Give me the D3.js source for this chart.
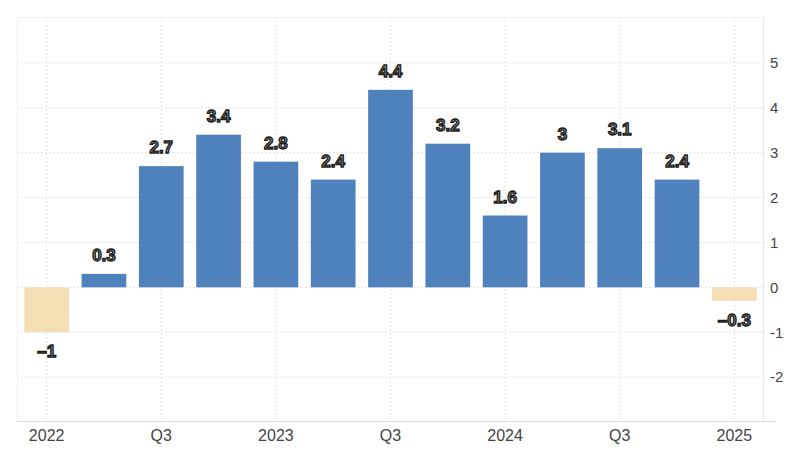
<!DOCTYPE html>
<html>
<head>
<meta charset="utf-8">
<script src="https://cdn.jsdelivr.net/npm/d3@7"></script>
<style>
  body { margin: 0; background: #fff; }
  svg { display: block; font-family: "Liberation Sans", Arial, sans-serif; }
</style>
</head>
<body>
<svg id="chart" width="796" height="458"></svg>
<script>
// quarterly values
const quarters = ["2022 Q1", "2022 Q2", "2022 Q3", "2022 Q4", "2023 Q1", "2023 Q2", "2023 Q3",
  "2023 Q4", "2024 Q1", "2024 Q2", "2024 Q3", "2024 Q4", "2025 Q1"];
const values = [-1, 0.3, 2.7, 3.4, 2.8, 2.4, 4.4, 3.2, 1.6, 3, 3.1, 2.4, -0.3];

const tickQuarters = ["2022 Q1", "2022 Q3", "2023 Q1", "2023 Q3", "2024 Q1", "2024 Q3", "2025 Q1"];
const tickLabels = ["2022", "Q3", "2023", "Q3", "2024", "Q3", "2025"];
const yTicks = [-2, -1, 0, 1, 2, 3, 4, 5];

const plotLeft = 17, plotRight = 763, plotTop = 17, plotBottom = 421;

const svg = d3.select("#chart");

const x = d3.scaleBand()
  .domain(quarters)
  .range([plotLeft + 1, plotRight])
  .paddingInner(0.22)
  .paddingOuter(0.11);

const y = d3.scaleLinear().domain([-3, 6]).range([422, 18]);

// grid
const grid = svg.append("g");
grid.selectAll(".hg")
  .data(yTicks)
  .enter().append("line")
  .attr("x1", plotLeft).attr("x2", plotRight)
  .attr("y1", d => y(d)).attr("y2", d => y(d))
  .attr("stroke", "#e3e3e3")
  .attr("stroke-dasharray", "2,2");

grid.selectAll(".vg")
  .data(tickQuarters)
  .enter().append("line")
  .attr("x1", d => x(d) + x.bandwidth() / 2).attr("x2", d => x(d) + x.bandwidth() / 2)
  .attr("y1", plotTop).attr("y2", plotBottom)
  .attr("stroke", "#e3e3e3")
  .attr("stroke-dasharray", "2,2");

// frame
svg.append("line").attr("x1", plotLeft).attr("x2", plotRight).attr("y1", plotTop + 0.5).attr("y2", plotTop + 0.5)
  .attr("stroke", "#efefef");
svg.append("line").attr("x1", plotLeft + 0.5).attr("x2", plotLeft + 0.5).attr("y1", plotTop).attr("y2", plotBottom)
  .attr("stroke", "#efefef");
svg.append("line").attr("x1", plotRight + 0.5).attr("x2", plotRight + 0.5).attr("y1", plotTop).attr("y2", plotBottom)
  .attr("stroke", "#e6e6e6");
svg.append("line").attr("x1", plotLeft).attr("x2", plotRight + 12).attr("y1", plotBottom + 0.5).attr("y2", plotBottom + 0.5)
  .attr("stroke", "#dddddd");

// bars
svg.selectAll(".bar")
  .data(quarters)
  .enter().append("rect")
  .attr("x", d => x(d))
  .attr("width", x.bandwidth())
  .attr("y", (d, i) => y(Math.max(0, values[i])))
  .attr("height", (d, i) => Math.abs(y(values[i]) - y(0)))
  .attr("fill", (d, i) => values[i] < 0 ? "#f5deb3" : "#4f81bd");

// value labels
svg.selectAll(".lbl")
  .data(quarters)
  .enter().append("text")
  .attr("x", d => x(d) + x.bandwidth() / 2)
  .attr("y", (d, i) => values[i] < 0 ? y(values[i]) + 25 : y(values[i]) - 13)
  .attr("text-anchor", "middle")
  .attr("font-size", 17)
  .attr("font-weight", "bold")
  .attr("fill", "#8a8a8a")
  .attr("stroke", "#1a1a1a")
  .attr("stroke-width", 1.3)
  .text((d, i) => String(values[i]).replace("-", "\u2013"));

// y axis on the right
const yAxis = d3.axisRight(y)
  .tickValues(yTicks)
  .tickSize(0)
  .tickPadding(0)
  .tickFormat(d => String(d));

svg.append("g")
  .attr("transform", `translate(770,0)`)
  .call(yAxis)
  .call(g => g.select(".domain").remove())
  .call(g => g.selectAll("text")
    .attr("font-size", 15)
    .attr("font-family", "Liberation Sans, Arial, sans-serif")
    .attr("fill", "#444"));

// x axis
const xAxis = d3.axisBottom(x)
  .tickValues(tickQuarters)
  .tickSize(0)
  .tickPadding(0)
  .tickFormat((d, i) => tickLabels[i]);

svg.append("g")
  .attr("transform", `translate(0,${plotBottom + 9})`)
  .call(xAxis)
  .call(g => g.select(".domain").remove())
  .call(g => g.selectAll("text")
    .attr("font-size", 16)
    .attr("font-family", "Liberation Sans, Arial, sans-serif")
    .attr("fill", "#444"));
</script>
</body>
</html>
